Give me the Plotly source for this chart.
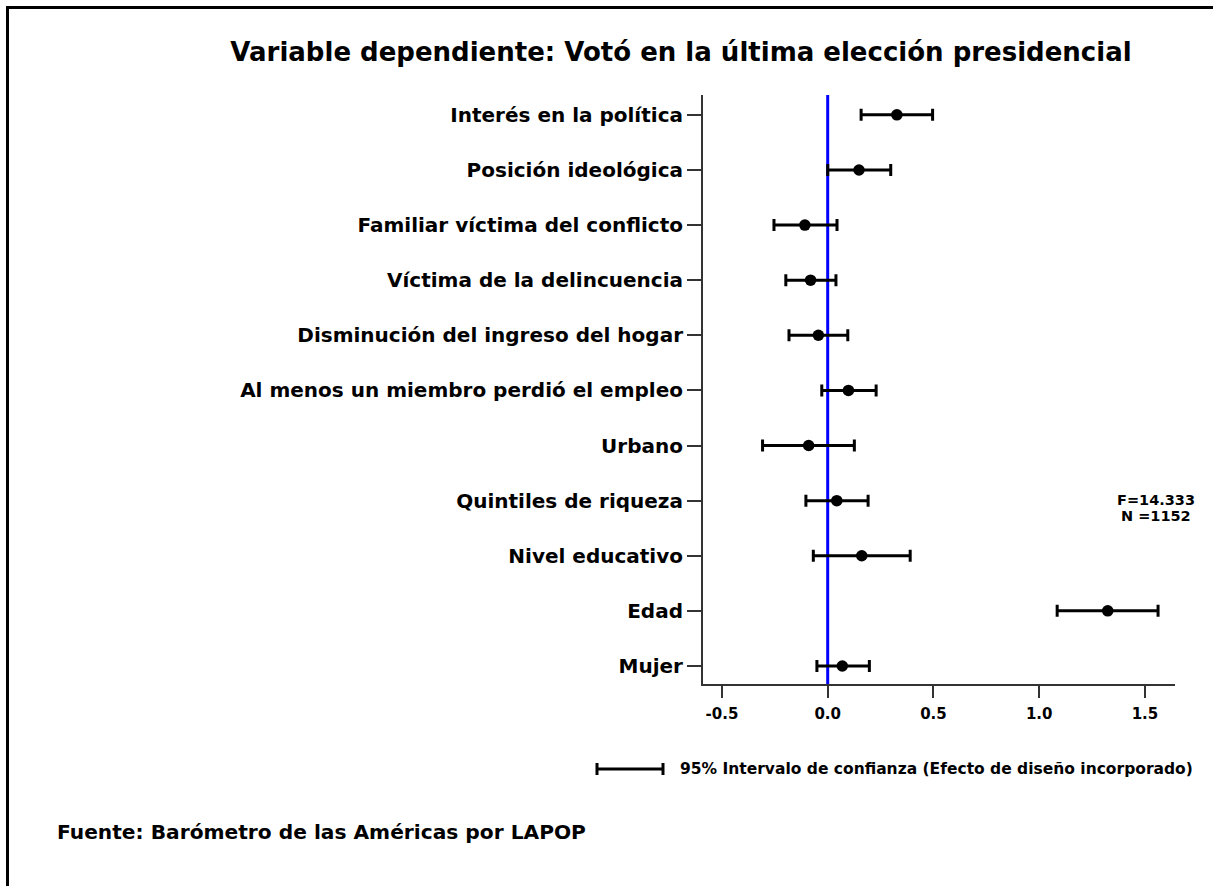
import plotly.graph_objects as go

# ---- data (top-to-bottom order as displayed) ----
variables = [
    "Interés en la política",
    "Posición ideológica",
    "Familiar víctima del conflicto",
    "Víctima de la delincuencia",
    "Disminución del ingreso del hogar",
    "Al menos un miembro perdió el empleo",
    "Urbano",
    "Quintiles de riqueza",
    "Nivel educativo",
    "Edad",
    "Mujer",
]
coef = [0.327, 0.148, -0.108, -0.081, -0.044, 0.098, -0.090, 0.043, 0.161, 1.324, 0.069]
ci_low = [0.158, 0.000, -0.254, -0.198, -0.183, -0.028, -0.308, -0.103, -0.068, 1.085, -0.051]
ci_high = [0.496, 0.298, 0.044, 0.039, 0.095, 0.229, 0.126, 0.191, 0.390, 1.562, 0.197]
x_ticks = [-0.5, 0.0, 0.5, 1.0, 1.5]
x_ticklabels = ["-0.5", "0.0", "0.5", "1.0", "1.5"]

title_text = "Variable dependiente: Votó en la última elección presidencial"
stats_f = "F=14.333"
stats_n = "N =1152"
legend_text = "95% Intervalo de confianza (Efecto de diseño incorporado)"
source_text = "Fuente: Barómetro de las Américas por LAPOP"

# plot in bottom-to-top order for the category axis
cats = variables[::-1]
pts = coef[::-1]
lo = ci_low[::-1]
hi = ci_high[::-1]
err_plus = [h - p for h, p in zip(hi, pts)]
err_minus = [p - l for p, l in zip(pts, lo)]

FONT = "DejaVu Sans"
W, H = 1214, 886
L, R, T, B = 703, 1175, 95, 684  # plot area in pixels

def px(xp):
    return (xp - L) / (R - L)

def py(yp):
    return (B - yp) / (B - T)

fig = go.Figure()

fig.add_trace(go.Scatter(
    x=pts, y=cats, mode="markers",
    marker=dict(color="black", size=11.5, symbol="circle"),
    error_x=dict(type="data", symmetric=False, array=err_plus, arrayminus=err_minus,
                 color="black", thickness=3, width=6),
    showlegend=False, hoverinfo="skip",
))

frame_path = "M %f,%f L %f,%f L %f,%f" % (px(7.5), py(886), px(7.5), py(7.5), px(1213), py(7.5))

shapes = [
    # zero reference line
    dict(type="line", xref="x", yref="paper", x0=0, x1=0, y0=0, y1=1,
         line=dict(color="#0000FF", width=3), layer="below"),
    # outer frame (only left/top visible), open path
    dict(type="path", xref="paper", yref="paper", path=frame_path,
         line=dict(color="black", width=3), fillcolor="rgba(0,0,0,0)"),
    # legend symbol
    dict(type="line", xref="paper", yref="paper", x0=px(596), x1=px(664), y0=py(769), y1=py(769),
         line=dict(color="black", width=3)),
    dict(type="line", xref="paper", yref="paper", x0=px(597), x1=px(597), y0=py(763), y1=py(775),
         line=dict(color="black", width=3)),
    dict(type="line", xref="paper", yref="paper", x0=px(663), x1=px(663), y0=py(763), y1=py(775),
         line=dict(color="black", width=3)),
]

annotations = [
    dict(text="<b>%s</b>" % stats_f, xref="paper", yref="paper", x=px(1156), y=py(500),
         xanchor="center", yanchor="middle", showarrow=False, font=dict(size=14.5, color="black", family=FONT)),
    dict(text="<b>%s</b>" % stats_n, xref="paper", yref="paper", x=px(1156), y=py(516),
         xanchor="center", yanchor="middle", showarrow=False, font=dict(size=14.5, color="black", family=FONT)),
    dict(text="<b>%s</b>" % legend_text, xref="paper", yref="paper", x=px(678), y=py(769),
         xanchor="left", yanchor="middle", showarrow=False, font=dict(size=15.5, color="black", family=FONT)),
    dict(text="<b>%s</b>" % source_text, xref="paper", yref="paper", x=px(55), y=py(832),
         xanchor="left", yanchor="middle", showarrow=False, font=dict(size=20.2, color="black", family=FONT)),
]

fig.update_layout(
    width=W, height=H,
    margin=dict(l=L, r=W - R, t=T, b=H - B, pad=0),
    paper_bgcolor="white", plot_bgcolor="white",
    title=dict(text="<b>%s</b>" % title_text, x=681 / W, xref="container", xanchor="center",
               y=1 - 52 / H, yref="container", yanchor="middle",
               font=dict(size=26, color="black", family=FONT)),
    shapes=shapes, annotations=annotations,
    font=dict(family=FONT, color="black"),
)

fig.update_xaxes(
    range=[-0.5896, 1.6421], tickvals=x_ticks, ticktext=["<b>%s</b>" % t for t in x_ticklabels],
    showgrid=False, zeroline=False, showline=True, linecolor="#333333", linewidth=2,
    ticks="outside", ticklen=12, tickwidth=2, tickcolor="#333333",
    ticklabelstandoff=3,
    tickfont=dict(size=15, color="black", family=FONT),
)
fig.update_yaxes(
    type="category", categoryorder="array", categoryarray=cats,
    tickvals=cats, ticktext=["<b>%s</b>" % c for c in cats],
    range=[-0.327, 10.36],
    showgrid=False, zeroline=False, showline=True, linecolor="#333333", linewidth=2,
    ticks="outside", ticklen=14, tickwidth=2, tickcolor="#333333",
    tickfont=dict(size=20, color="black", family=FONT),
)

fig.write_html(
    "out.html",
    config={"displayModeBar": False},
    post_script=("document.body.style.margin='0px';document.body.style.overflow='hidden';"
                 "document.documentElement.style.overflow='hidden';"),
)
